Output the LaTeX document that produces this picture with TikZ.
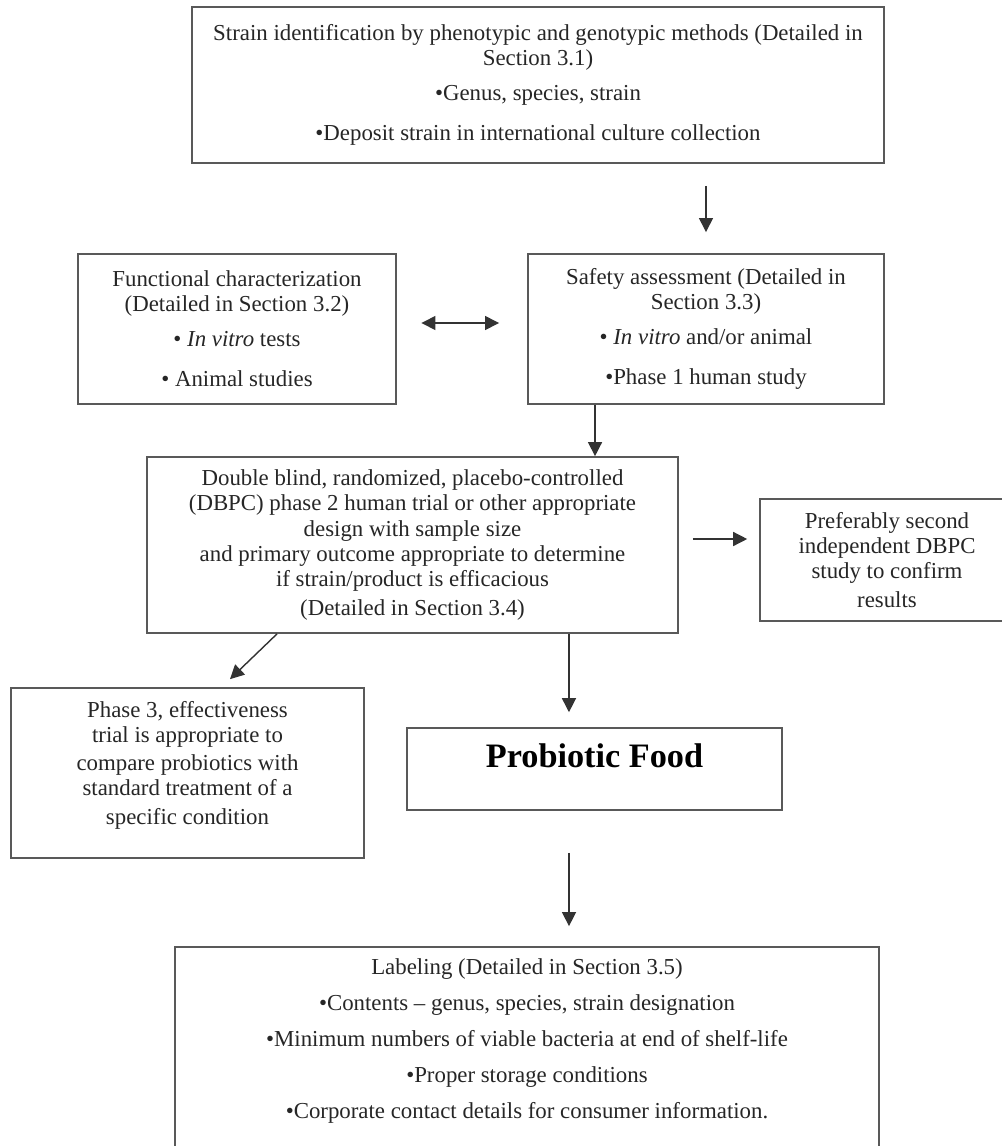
\documentclass[tikz,border=0pt]{standalone}
\usepackage{fontspec}
\setmainfont{Liberation Serif}
\usetikzlibrary{arrows.meta}

\begin{document}
\begin{tikzpicture}[x=0.02cm,y=-0.02cm,
	box/.style={draw=black!65,line width=1pt,align=center,inner sep=0pt,text=black!85,font=\fontsize{13pt}{14.4pt}\selectfont},
	arr/.style={draw=black!80,line width=0.8pt,-{Triangle[length=2.8mm,width=2.8mm]}},
	arrboth/.style={arr,{Triangle[length=2.8mm,width=2.8mm]}-{Triangle[length=2.8mm,width=2.8mm]}}]
	\path[use as bounding box,fill=white] (0,0) rectangle (1001,1146);
	
	\node[box,minimum width=13.84cm,minimum height=3.12cm] (strain) at (538,85)
	{Strain identification by phenotypic and genotypic methods (Detailed in\\
		Section 3.1)\\[5.5pt]
		\textbullet Genus, species, strain\\[8.4pt]
		\textbullet Deposit strain in international culture collection};
	\node[box,minimum width=6.36cm,minimum height=3cm] (func) at (237,329)
	{Functional characterization\\
		(Detailed in Section 3.2)\\[5.5pt]
		\textbullet{} \textit{In vitro} tests\\[8.4pt]
		\textbullet{} Animal studies};
	\node[box,minimum width=7.12cm,minimum height=3cm] (safety) at (706,329)
	{Safety assessment (Detailed in\\
		Section 3.3)\\[5.5pt]
		\textbullet{} \textit{In vitro} and/or animal\\[8.4pt]
		\textbullet Phase 1 human study};
	\node[box,minimum width=10.62cm,minimum height=3.52cm] (dbpc) at (412.5,545)
	{Double blind, randomized, placebo-controlled\\
		(DBPC) phase 2 human trial or other appropriate\\
		design with sample size\\
		and primary outcome appropriate to determine\\
		if strain/product is efficacious\\[2pt]
		(Detailed in Section 3.4)};
	\node[box,minimum width=5.08cm,minimum height=2.44cm] (pref) at (887,560)
	{Preferably second\\
		independent DBPC\\
		study to confirm\\[2pt]
		results};
	\node[box,minimum width=7.06cm,minimum height=3.4cm,text depth=11.5pt] (phase) at (187.5,773)
	{Phase 3, effectiveness\\
		trial is appropriate to\\[1.5pt]
		compare probiotics with\\
		standard treatment of a\\[2pt]
		specific condition};
	\node[box,minimum width=7.5cm,minimum height=1.64cm,text depth=14.8pt,
	font=\fontsize{19.5pt}{22pt}\selectfont\bfseries,text=black] (food) at (594.5,769)
	{Probiotic Food};
	\node[box,minimum width=14.08cm,minimum height=4.26cm,text depth=17pt] (label) at (527,1053.5)
	{Labeling (Detailed in Section 3.5)\\[6pt]
		\textbullet Contents -- genus, species, strain designation\\[6pt]
		\textbullet Minimum numbers of viable bacteria at end of shelf-life\\[6pt]
		\textbullet Proper storage conditions\\[6pt]
		\textbullet Corporate contact details for consumer information.};
	
	\draw[arr,shorten <=12.5pt,shorten >=12pt] (strain.south -| safety.north) -- (safety.north);
	\draw[arrboth,shorten <=14pt,shorten >=16pt] ([yshift=0.12cm]func.east) -- ([yshift=0.12cm]safety.west);
	\draw[arr] ([xshift=-2.22cm]safety.south) -- ([xshift=-2.22cm]safety.south |- dbpc.north);
	\draw[arr,shorten <=8pt,shorten >=6.8pt] ([yshift=0.12cm]dbpc.east) -- ([yshift=0.12cm]dbpc.east -| pref.west);
	\draw[arr] ([xshift=-2.71cm]dbpc.south) -- ([xshift=0.85cm,yshift=0.16cm]phase.north);
	\draw[arr,shorten >=8.5pt] ([xshift=3.13cm]dbpc.south) -- ([xshift=3.13cm]dbpc.south |- food.north);
	\draw[arr,shorten <=23.9pt,shorten >=11.4pt] ([xshift=-0.51cm]food.south) -- ([xshift=-0.51cm]food.south |- label.north);
\end{tikzpicture}
\end{document}
